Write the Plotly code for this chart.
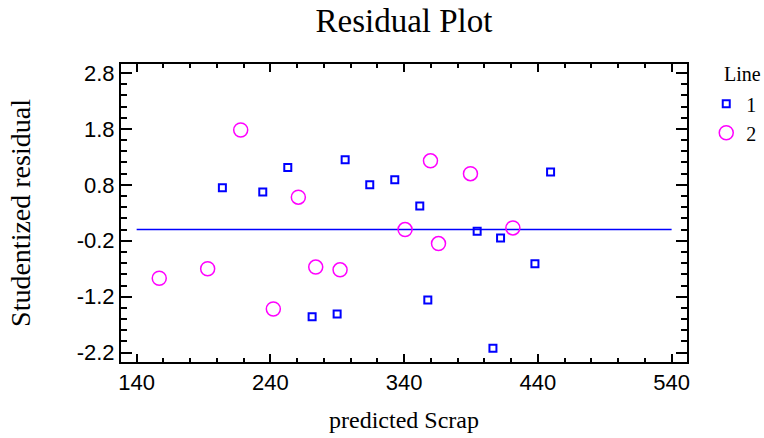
import plotly.graph_objects as go

# ---- data ----
line1_pred = [204.1, 234.3, 253.0, 271.2, 289.9, 295.9, 314.3, 333.0, 351.7,
              357.7, 394.6, 406.4, 412.1, 437.8, 449.5]
line1_resid = [0.75, 0.67, 1.11, -1.56, -1.51, 1.25, 0.80, 0.89, 0.42,
               -1.26, -0.03, -2.12, -0.15, -0.61, 1.03]

line2_pred = [156.9, 193.1, 217.8, 242.2, 260.9, 273.9, 292.1, 340.7,
              359.7, 365.7, 389.6, 421.3]
line2_resid = [-0.87, -0.70, 1.78, -1.42, 0.58, -0.67, -0.72, 0.00,
               1.23, -0.25, 1.00, 0.03]

zero_x = [140, 540]
zero_y = [0, 0]

x_ticks = [140, 240, 340, 440, 540]
y_ticks = [2.8, 1.8, 0.8, -0.2, -1.2, -2.2]

series_names = ["1", "2"]
legend_title = "Line"
title_text = "Residual Plot"
x_title = "predicted Scrap"
y_title = "Studentized residual"

serif = "Liberation Serif, Times New Roman, serif"
sans = "Liberation Sans, Arial, sans-serif"

fig = go.Figure()
fig.add_trace(go.Scatter(
    x=zero_x, y=zero_y, mode="lines",
    line=dict(color="#0000FF", width=1.5),
    showlegend=False, hoverinfo="skip"))
fig.add_trace(go.Scatter(
    x=line1_pred, y=line1_resid, mode="markers", name=series_names[0],
    marker=dict(symbol="square-open", size=7, color="#0000FF",
                line=dict(width=2, color="#0000FF"))))
fig.add_trace(go.Scatter(
    x=line2_pred, y=line2_resid, mode="markers", name=series_names[1],
    marker=dict(symbol="circle-open", size=14, color="#FF00FF",
                line=dict(width=1.5, color="#FF00FF"))))

fig.update_layout(
    width=764, height=438,
    margin=dict(l=121, r=77, t=64, b=76, autoexpand=False),
    paper_bgcolor="white", plot_bgcolor="white",
    title=dict(text=title_text, x=0.5, xref="paper", xanchor="center",
               y=1 - 20 / 438, yref="container", yanchor="middle",
               font=dict(family=serif, size=33, color="black")),
    legend=dict(
        x=1.034, xanchor="left", y=0.932, yanchor="top",
        font=dict(family=serif, size=20, color="black"),
        bgcolor="rgba(0,0,0,0)", tracegroupgap=0, itemwidth=30),
    showlegend=True,
    annotations=[dict(text=legend_title, xref="paper", yref="paper",
                      x=(742 - 121) / 565.7, y=1 - (74 - 64.3) / 297.4,
                      xanchor="center", yanchor="middle", showarrow=False,
                      font=dict(family=serif, size=20, color="black"))],
)

fig.update_xaxes(
    range=[128.3, 551.5], tickvals=x_ticks, ticktext=[str(v) for v in x_ticks],
    showgrid=False, zeroline=False,
    showline=True, linecolor="black", linewidth=2, mirror="allticks",
    ticks="inside", ticklen=8, tickwidth=1.5, tickcolor="black",
    minor=dict(dtick=20, tick0=140, ticks="inside", ticklen=4, tickwidth=1.5,
               tickcolor="black", showgrid=False),
    tickfont=dict(family=sans, size=22, color="black"),
    title=dict(text=x_title, font=dict(family=serif, size=24, color="black"),
               standoff=17),
)
fig.update_yaxes(
    range=[-2.368, 2.961], tickvals=y_ticks, ticktext=[f"{v:.1f}" for v in y_ticks],
    showgrid=False, zeroline=False,
    showline=True, linecolor="black", linewidth=2, mirror="allticks",
    ticks="inside", ticklen=11, tickwidth=1.5, tickcolor="black",
    minor=dict(dtick=0.2, tick0=-0.2, ticks="inside", ticklen=6, tickwidth=1.5,
               tickcolor="black", showgrid=False),
    tickfont=dict(family=sans, size=22, color="black"),
    title=dict(text=y_title, font=dict(family=serif, size=28, color="black"),
               standoff=38),
)

fig.write_html("out.html")
